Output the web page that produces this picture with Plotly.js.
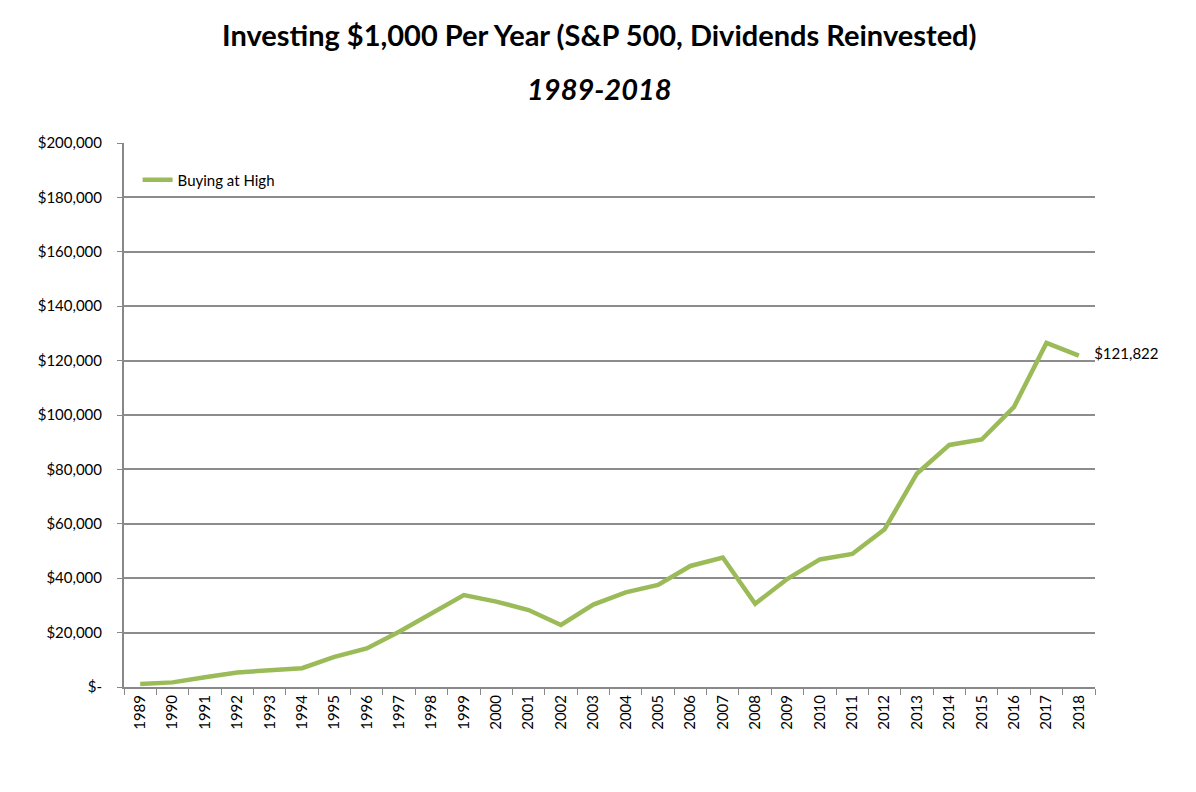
<!DOCTYPE html>
<html>
<head>
<meta charset="utf-8">
<script src="https://cdn.plot.ly/plotly-3.0.1.min.js"></script>
<style>html,body{margin:0;padding:0;background:#fff;}#chart{width:1196px;height:792px;}</style>
</head>
<body>
<div id="chart"></div>
<script>
const years = ["1989","1990","1991","1992","1993","1994","1995","1996","1997","1998","1999","2000","2001","2002","2003","2004","2005","2006","2007","2008","2009","2010","2011","2012","2013","2014","2015","2016","2017","2018"];
const buyingAtHigh = [1100,1700,3600,5300,6200,6900,11100,14200,20300,27100,33800,31400,28300,22800,30300,34800,37500,44500,47600,30600,39800,46900,48900,58000,78500,89000,91000,103000,126500,121822];
const yTickVals = [0,20000,40000,60000,80000,100000,120000,140000,160000,180000,200000];
const yTickText = ["$-","$20,000","$40,000","$60,000","$80,000","$100,000","$120,000","$140,000","$160,000","$180,000","$200,000"];
const seriesName = "Buying at High";
const endLabel = "$121,822";
const titleLine1 = "Investing $1,000 Per Year (S&P 500, Dividends Reinvested)";
const titleLine2 = "1989-2018";

const FONT = "Lato, 'Open Sans', sans-serif";
const PAD = "\u00a0\u00a0\u00a0\u00a0";

const pointText = buyingAtHigh.map((v, i) => i === buyingAtHigh.length - 1 ? PAD + endLabel : "");

const trace = {
  x: years, y: buyingAtHigh, type: "scatter", mode: "lines+text", name: seriesName,
  line: {color: "#9BBB59", width: 4.5},
  text: pointText, textposition: "middle right", cliponaxis: false,
  textfont: {family: FONT, size: 15, color: "#000"}
};

const layout = {
  width: 1196, height: 792,
  paper_bgcolor: "#fff", plot_bgcolor: "#fff",
  margin: {l: 124, r: 101, t: 143, b: 105},
  font: {family: FONT, color: "#000", size: 14},
  showlegend: true,
  legend: {x: 0.014, y: 0.932, xanchor: "left", yanchor: "middle", bgcolor: "rgba(0,0,0,0)",
           font: {family: FONT, size: 15, color: "#000"}},
  xaxis: {
    type: "category", tickangle: -90, tickson: "boundaries",
    ticks: "outside", ticklen: 6, tickcolor: "#888",
    showline: true, linecolor: "#888", linewidth: 2,
    showgrid: false, zeroline: false,
    tickfont: {family: FONT, size: 15, color: "#000"},
    range: [-0.5, 29.5]
  },
  yaxis: {
    range: [0, 200000], tickvals: yTickVals, ticktext: yTickText,
    ticks: "outside", ticklen: 5, tickcolor: "#888", ticklabelstandoff: 12,
    showline: true, linecolor: "#888", linewidth: 2,
    showgrid: true, gridcolor: "#8c8c8c", gridwidth: 2, zeroline: false,
    tickfont: {family: FONT, size: 15, color: "#000"}
  },
  annotations: [
    {xref: "paper", yref: "paper", x: 0.49, y: 1.2, xanchor: "center", yanchor: "middle",
     text: "<b>" + titleLine1 + "</b>", showarrow: false,
     font: {family: FONT, size: 29, color: "#000"}},
    {xref: "paper", yref: "paper", x: 0.49, y: 1.1, xanchor: "center", yanchor: "middle",
     text: "<b><i>" + titleLine2 + "</i></b>", showarrow: false,
     font: {family: FONT, size: 29, color: "#000"}}
  ]
};

Plotly.newPlot("chart", [trace], layout, {displayModeBar: false, staticPlot: true});
</script>
</body>
</html>
